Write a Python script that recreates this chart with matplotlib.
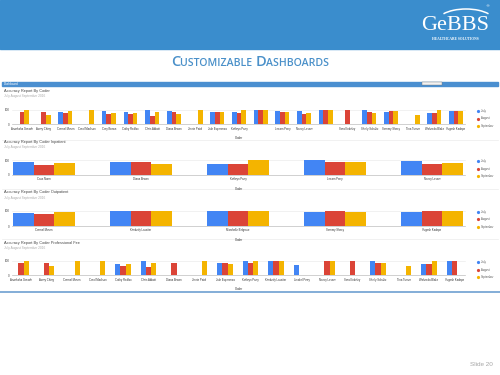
import numpy as np
import matplotlib
matplotlib.use("Agg")
import matplotlib.pyplot as plt
from matplotlib.patches import Rectangle, Arc

nan = np.nan

# ---------------- data ----------------
series_names = ["July", "August", "September"]
series_colors = ["#4285F4", "#DB4437", "#F4B400"]

coders1 = ["Ananksha Garade", "Avery Ching", "Carmel Mourn", "Carol Madison", "Cary Brown",
           "Cathy Redfox", "Chris Abbott", "Diana Brown", "Jinnie Patel", "Jule Esperanza",
           "Kathryn Perry", "Kimberly Lassiter", "Leeam Perry", "Nancy Lesser", "Rachel Moore",
           "Sara Enkeley", "Shelly Schultz", "Sammy Sheey", "Tina Turner", "Waheeda Blake",
           "Yugesh Kadepe"]
hidden1 = ["Kimberly Lassiter", "Rachel Moore"]
july1 = [nan, nan, 86, nan, 91, 84, 100, 91, nan, 86, 84, 100, 93, 95, 100, nan, 97, 86, nan, 77, 92]
aug1 = [88, 86, 77, nan, 70, 70, 58, 88, nan, 86, 81, 100, 86, 72, 100, 100, 86, 92, nan, 77, 96]
sep1 = [100, 65, 91, 100, 81, 81, 86, 74, 100, 84, 100, 100, 88, 80, 100, nan, 82, 90, 64, 97, 92]

coders2 = ["Cass Norm", "Diana Brown", "Kathryn Perry", "Leeam Perry", "Nancy Lesser"]
july2 = [89, 91, 77, 100, 98]
aug2 = [70, 86, 77, 86, 75]
sep2 = [80, 73, 100, 91, 84]

coders3 = ["Carmel Mourn", "Kimberly Lassiter", "Marchelle Belgrave", "Sammy Sheey", "Yugesh Kadepe"]
july3 = [87, 96, 100, 89, 93]
aug3 = [78, 96, 100, 96, 100]
sep3 = [91, 100, 100, 93, 96]

coders4 = ["Ananksha Garade", "Avery Ching", "Carmel Mourn", "Carol Madison", "Cathy Redfox",
           "Chris Abbott", "Diana Brown", "Jinnie Patel", "Jule Esperanza", "Kathryn Perry",
           "Kimberly Lassiter", "Lisabel Perry", "Nancy Lesser", "Sara Enkeley", "Shelly Schultz",
           "Tina Turner", "Waheeda Blake", "Yugesh Kadepe"]
july4 = [nan, nan, nan, nan, 81, 98, nan, nan, 84, 98, 98, 72, nan, nan, 98, nan, 77, 98]
aug4 = [88, 86, nan, nan, 67, 56, 86, nan, 84, 84, 98, nan, 98, 98, 86, nan, 77, 98]
sep4 = [98, 65, 98, 98, 79, 86, nan, 98, 81, 98, 98, nan, 98, nan, 84, 65, 98, nan]

chart_titles = ["Accuracy Report By Coder", "Accuracy Report By Coder Inpatient",
                "Accuracy Report By Coder Outpatient", "Accuracy Report By Coder Professional Fee"]
subtitle = "July August September 2016"
y_ticks = [0, 100]

# ---------------- figure ----------------
W, H = 500, 375
fig = plt.figure(figsize=(5, 3.75), dpi=100)
fig.patch.set_facecolor("white")
FONT = "Liberation Sans"

bg = fig.add_axes([0, 0, 1, 1])
bg.set_xlim(0, W)
bg.set_ylim(H, 0)
bg.axis("off")

# banner
bg.add_patch(Rectangle((0, 0), W, 48.5, color="#3a8dcd", zorder=1))
bg.text(455, 25, "GeBBS", color="white", fontsize=16, family="Liberation Serif",
        ha="center", va="center", zorder=3)
bg.add_patch(Arc((466, 22), 58, 26, theta1=200, theta2=340, color="white", lw=1.1, zorder=3))
bg.text(487, 6.5, "®", color="white", fontsize=3, ha="center", va="center", zorder=3)
bg.text(455.5, 38.5, "HEALTHCARE SOLUTIONS", color="white", fontsize=2.6,
        family="Liberation Serif", weight="bold", ha="center", va="center", zorder=3)

# small caps title
title_color = "#4a90c9"
fig.canvas.draw()
renderer = fig.canvas.get_renderer()
pieces = [("C", 10.5), ("USTOMIZABLE ", 7.6), ("D", 10.5), ("ASHBOARDS", 7.6)]
texts = []
total = 0
for s, fs in pieces:
    t = bg.text(0, 66, s, fontsize=fs, color=title_color, family="Open Sans",
                weight="semibold", ha="left", va="baseline")
    w = t.get_window_extent(renderer).width
    texts.append((t, w))
    total += w
x = 250 - total / 2
for t, w in texts:
    t.set_x(x)
    x += w

# dashboard frame
bg.add_patch(Rectangle((2, 81.5), 496, 4.3, color="#4a8fd0", zorder=2))
bg.text(4, 83.7, "Dashboard", color="white", fontsize=2.2, family=FONT, ha="left",
        va="center", zorder=3)
bg.add_patch(Rectangle((422, 82.3), 20, 2.8, facecolor="#f2f2f2", edgecolor="#777777",
                       lw=0.3, zorder=3))
bg.plot([0, W], [291.5, 291.5], color="#7aa7d4", lw=1.3, zorder=2)
for ysep in [139.5, 189.2, 239.3]:
    bg.plot([2, 498], [ysep, ysep], color="#ececec", lw=0.5, zorder=2)

bg.text(481, 364, "Slide 20", color="#a6a6a6", fontsize=4.6, family=FONT,
        ha="center", va="center")

charts = [
    dict(names=coders1, vals=[july1, aug1, sep1], y100=110.0, y0=124.3, c0=22, s=21.7,
         bw=0.215, title_y=91.0, hidden=hidden1),
    dict(names=coders2, vals=[july2, aug2, sep2], y100=160.3, y0=175.0, c0=44, s=97,
         bw=0.213, title_y=141.7, hidden=[]),
    dict(names=coders3, vals=[july3, aug3, sep3], y100=210.7, y0=226.0, c0=44, s=97,
         bw=0.213, title_y=192.3, hidden=[]),
    dict(names=coders4, vals=[july4, aug4, sep4], y100=261.0, y0=275.3, c0=21, s=25.5,
         bw=0.20, title_y=242.7, hidden=[]),
]

PL, PR = 12, 465
for ci, c in enumerate(charts):
    ax = fig.add_axes([PL / W, 1 - c["y0"] / H, (PR - PL) / W, (c["y0"] - c["y100"]) / H])
    ax.set_facecolor("none")
    n = len(c["names"])
    xs = np.arange(n)
    for k, (vals, col) in enumerate(zip(c["vals"], series_colors)):
        v = np.array(vals, dtype=float)
        m = ~np.isnan(v)
        ax.bar(xs[m] + (k - 1) * c["bw"], v[m], width=c["bw"], color=col,
               clip_on=False, zorder=3, linewidth=0)
    ax.set_xlim((PL - c["c0"]) / c["s"], (PR - c["c0"]) / c["s"])
    ax.set_ylim(0, 100)
    ax.axhline(100, color="#e6e6e6", lw=0.4, zorder=1, clip_on=False)
    ax.axhline(0, color="#bdbdbd", lw=0.5, zorder=4, clip_on=False)
    for sp in ax.spines.values():
        sp.set_visible(False)
    ax.set_yticks(y_ticks)
    ax.set_yticklabels([str(t) for t in y_ticks], fontsize=2.2, color="#444444", family=FONT)
    labels = ["" if nm in c["hidden"] else nm for nm in c["names"]]
    ax.set_xticks(xs)
    ax.set_xticklabels(labels, fontsize=2.0, color="#333333", family=FONT)
    ax.tick_params(axis="both", length=0, pad=1.6)
    ax.set_xlabel("Coder", fontsize=2.2, color="#333333", family=FONT, labelpad=4.2)

    # titles
    bg.text(3.5, c["title_y"], chart_titles[ci], fontsize=2.8, color="#444444",
            family=FONT, ha="left", va="center")
    bg.text(3.5, c["title_y"] + 5.2, subtitle, fontsize=2.3, color="#aaaaaa",
            family=FONT, ha="left", va="center")
    # legend
    for k, (nm, col) in enumerate(zip(series_names, series_colors)):
        ly = c["y100"] + 1 + k * 7.5
        bg.plot([477.5], [ly], marker="o", ms=2.3, color=col, mec="none", zorder=5)
        bg.text(481, ly, nm, fontsize=2.0, color="#555555", family=FONT,
                ha="left", va="center")

fig.savefig("out.png", dpi=100, facecolor="white")
